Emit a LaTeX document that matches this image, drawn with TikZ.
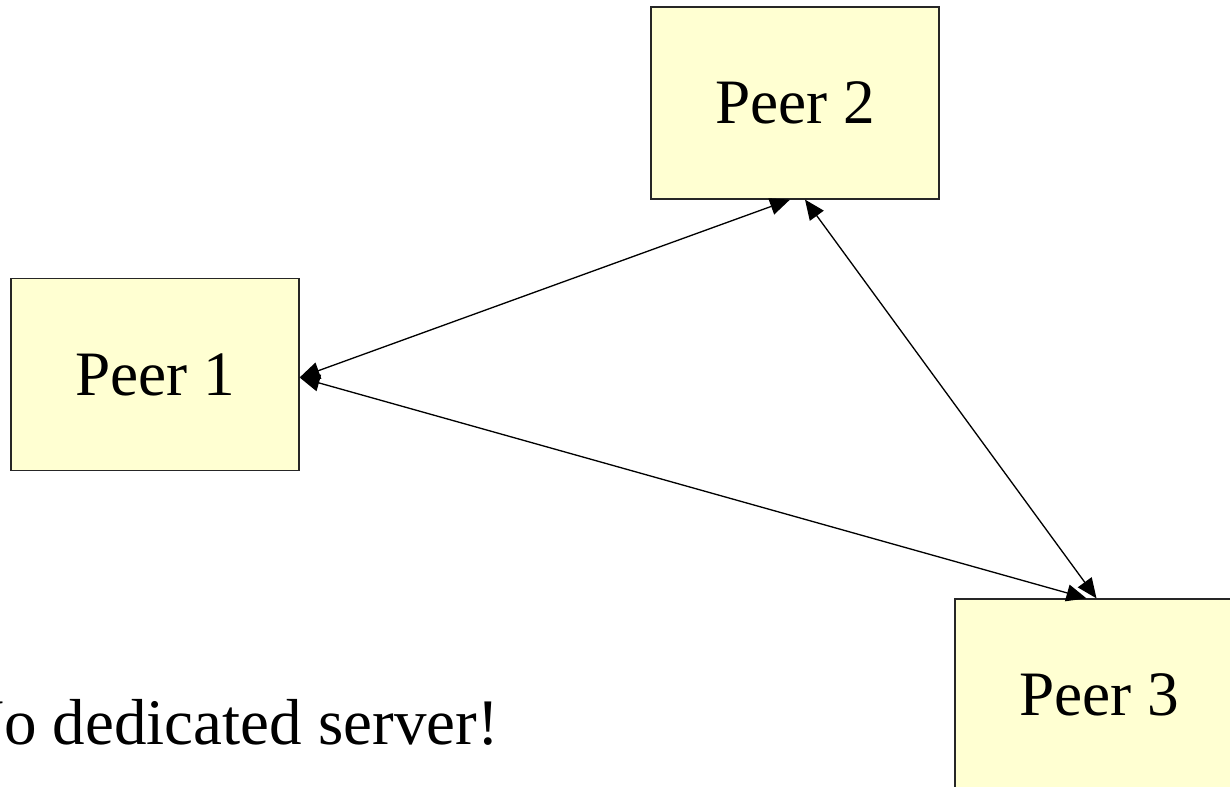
\documentclass[tikz,border=0pt]{standalone}
\usepackage{fontspec}
\setmainfont{Liberation Serif}
\usepackage{xcolor}
\usetikzlibrary{arrows.meta}

\begin{document}
\begin{tikzpicture}[peernode/.style={draw=black!85,fill=peerfill,line width=0.7pt,minimum width=5.76cm,minimum height=3.84cm,font=\fontsize{36}{43}\selectfont},
  link/.style={line width=0.75pt,{Triangle[length=0.4cm,width=0.34cm]}-{Triangle[length=0.4cm,width=0.34cm]}}]
\definecolor{peerfill}{HTML}{FFFFD2}
\useasboundingbox (0,0) rectangle (24.6,15.74);
\clip (0,0) rectangle (24.6,15.74);
  \foreach \nm/\num/\pos in {peer1/1/{(3.10,8.25)},peer2/2/{(15.90,13.68)},peer3/3/{(21.98,1.84)}}
  {  \node [peernode] (\nm) at \pos {Peer \num};}
\draw [link] ([yshift=-0.06cm]peer1.east) -- ([xshift=-0.1cm]peer2.south);
\draw [link] ([xshift=0.2cm]peer2.south) -- ([xshift=-0.05cm]peer3.north);
\draw [link] ([yshift=-0.06cm]peer1.east) -- ([xshift=-0.25cm]peer3.north);
\node [anchor=base east,font=\fontsize{37}{44}\selectfont] (noserver) at (10.1,0.84) {No dedicated server!};
\end{tikzpicture}
\end{document}
